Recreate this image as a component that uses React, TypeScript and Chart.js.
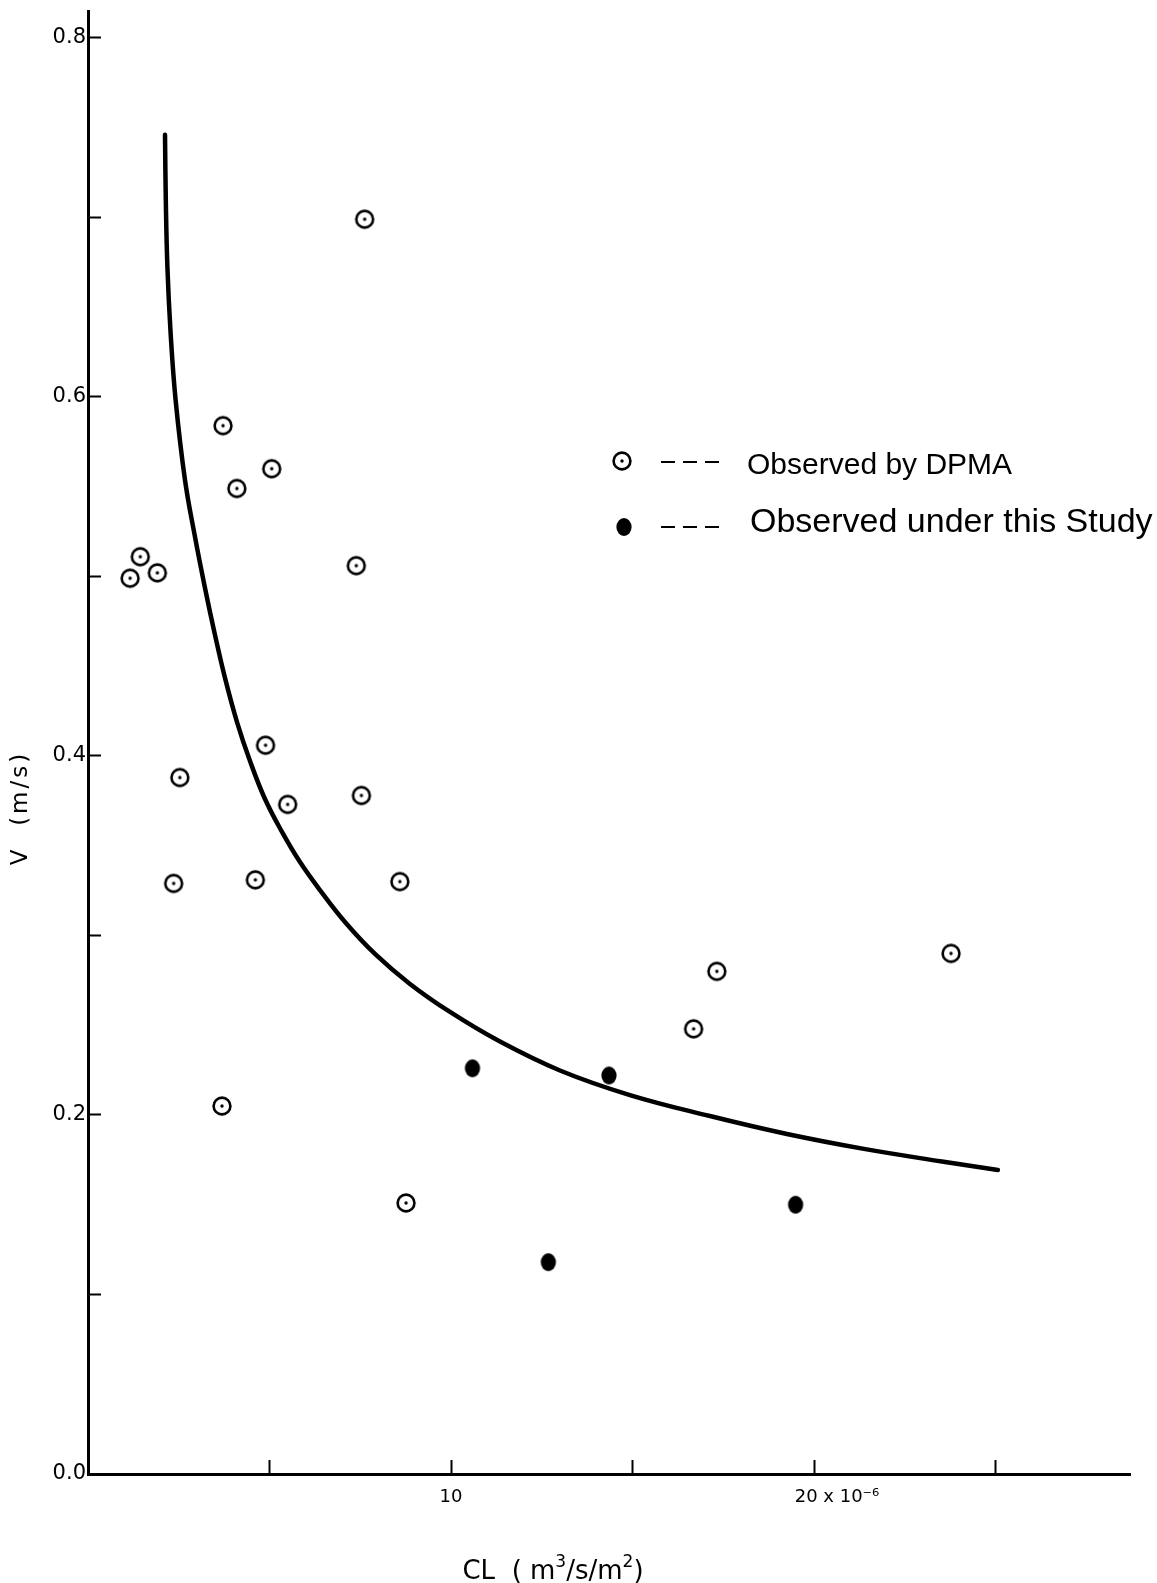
import React, { useEffect, useRef } from "react";
import { Chart, registerables } from "chart.js";

Chart.register(...registerables);

// Fitted curve V vs CL
const curveCL = [2.121, 2.143, 2.187, 2.275, 2.413, 2.671, 2.947, 3.222, 3.498, 3.773, 4.104, 4.462, 4.875, 5.343, 5.839, 6.389, 7.078, 7.904, 8.868, 9.97, 11.347, 12.999, 14.927, 17.13, 19.251, 21.371, 23.52, 25.062];
const curveV = [0.746, 0.7097, 0.6724, 0.6357, 0.5983, 0.5538, 0.522, 0.4936, 0.4674, 0.4435, 0.4189, 0.3972, 0.376, 0.3577, 0.3409, 0.3253, 0.3075, 0.2897, 0.273, 0.2574, 0.2409, 0.2248, 0.2111, 0.1994, 0.1894, 0.1811, 0.1741, 0.1694];

// Observed by DPMA
const dpmaCL = [7.62, 3.72, 4.1, 5.06, 7.39, 1.16, 1.44, 1.91, 4.89, 2.53, 5.5, 7.53, 2.36, 4.61, 8.59, 17.32, 23.77, 16.68, 3.69, 8.76];
const dpmaV = [0.699, 0.584, 0.549, 0.56, 0.506, 0.499, 0.511, 0.502, 0.406, 0.388, 0.373, 0.378, 0.329, 0.331, 0.33, 0.28, 0.29, 0.248, 0.205, 0.151];

// Observed under this Study
const studyCL = [10.59, 14.35, 12.68, 19.49];
const studyV = [0.226, 0.222, 0.118, 0.15];

// Axes
const xTickValues = [5, 10, 15, 20, 25];
const xTickLabels: Record<number, string> = { 10: "10", 20: "        20 x 10\u207B\u2076" };
const yTickValues = [0, 0.1, 0.2, 0.3, 0.4, 0.5, 0.6, 0.7, 0.8];
const xMin = 0;
const xMax = 28.7;
const yMin = 0;
const yMax = 0.815;

const legendLabels = ["Observed by DPMA", "Observed under this Study"];
const xTitleParts = ["CL  ( m", "3", "/s/m", "2", ")"];
const yTitle = "V  (m/s)";

function makeOpenMarker() {
  const c = document.createElement("canvas");
  c.width = 24;
  c.height = 24;
  const g = c.getContext("2d")!;
  g.fillStyle = "#fff";
  g.beginPath();
  g.arc(12, 12, 8.4, 0, Math.PI * 2);
  g.fill();
  g.strokeStyle = "#000";
  g.lineWidth = 2.6;
  g.stroke();
  g.fillStyle = "#000";
  g.beginPath();
  g.arc(12, 12, 1.7, 0, Math.PI * 2);
  g.fill();
  return c;
}

function makeFilledMarker() {
  const c = document.createElement("canvas");
  c.width = 18;
  c.height = 22;
  const g = c.getContext("2d")!;
  g.fillStyle = "#000";
  g.beginPath();
  g.ellipse(9, 11, 7.6, 9, 0, 0, Math.PI * 2);
  g.fill();
  return c;
}

export default function App() {
  const ref = useRef<HTMLCanvasElement>(null);

  useEffect(() => {
    const canvas = ref.current!;
    const openImg = makeOpenMarker();
    const filledImg = makeFilledMarker();

    const annotations = {
      id: "annotations",
      afterDraw(chart: any) {
        const ctx = chart.ctx as CanvasRenderingContext2D;
        ctx.save();
        ctx.fillStyle = "#000";
        ctx.strokeStyle = "#000";

        // Y title
        ctx.save();
        ctx.translate(21, 808);
        ctx.rotate(-Math.PI / 2);
        ctx.font = '23px "DejaVu Sans"';
        (ctx as any).letterSpacing = "3px";
        ctx.textAlign = "center";
        ctx.textBaseline = "middle";
        ctx.fillText(yTitle, 0, 0);
        ctx.restore();

        // X title with superscripts
        const bigFont = '26px "DejaVu Sans"';
        const supFont = '17px "DejaVu Sans"';
        let total = 0;
        xTitleParts.forEach((p, i) => {
          ctx.font = i % 2 === 1 ? supFont : bigFont;
          total += ctx.measureText(p).width;
        });
        let xx = 553 - total / 2;
        const base = 1579;
        ctx.textAlign = "left";
        ctx.textBaseline = "alphabetic";
        xTitleParts.forEach((p, i) => {
          const sup = i % 2 === 1;
          ctx.font = sup ? supFont : bigFont;
          ctx.fillText(p, xx, sup ? base - 12 : base);
          xx += ctx.measureText(p).width;
        });

        // Legend
        ctx.drawImage(openImg, 622 - 12, 461 - 12);
        ctx.drawImage(filledImg, 624 - 9, 527 - 11);
        ctx.lineWidth = 2;
        ctx.setLineDash([14, 8]);
        ctx.beginPath();
        ctx.moveTo(661, 462);
        ctx.lineTo(719, 462);
        ctx.moveTo(661, 527);
        ctx.lineTo(719, 527);
        ctx.stroke();
        ctx.setLineDash([]);
        ctx.font = '30px "Liberation Sans"';
        ctx.fillText(legendLabels[0], 747, 474);
        ctx.font = '34px "Liberation Sans"';
        ctx.fillText(legendLabels[1], 750, 532);
        ctx.restore();
      },
    };

    const chart = new Chart(canvas, {
      type: "scatter",
      data: {
        datasets: [
          {
            label: "Curve",
            data: curveCL.map((x, i) => ({ x, y: curveV[i] })),
            showLine: true,
            borderColor: "#000",
            borderWidth: 4.5,
            pointRadius: 0,
            tension: 0.4,
            borderCapStyle: "round",
            borderJoinStyle: "round",
            order: 2,
          } as any,
          {
            label: legendLabels[0],
            data: dpmaCL.map((x, i) => ({ x, y: dpmaV[i] })),
            pointStyle: openImg as any,
            pointRadius: 9,
            order: 1,
          },
          {
            label: legendLabels[1],
            data: studyCL.map((x, i) => ({ x, y: studyV[i] })),
            pointStyle: filledImg as any,
            pointRadius: 9,
            order: 0,
          },
        ],
      },
      options: {
        responsive: false,
        animation: false,
        devicePixelRatio: 1,
        layout: { padding: { top: 11, right: 27, left: 0, bottom: 0 } },
        plugins: { legend: { display: false }, tooltip: { enabled: false } },
        scales: {
          x: {
            type: "linear",
            min: xMin,
            max: xMax,
            afterFit(scale: any) {
              scale.height = 109;
              scale.paddingLeft = 0;
              scale.paddingRight = 0;
            },
            afterBuildTicks(scale: any) {
              scale.ticks = xTickValues.map((v) => ({ value: v }));
            },
            border: { display: true, color: "#000", width: 3 },
            grid: {
              drawOnChartArea: false,
              drawTicks: true,
              tickLength: -14,
              tickWidth: 2,
              tickColor: "#000",
            },
            ticks: {
              autoSkip: false,
              maxRotation: 0,
              padding: 27,
              color: "#000",
              font: { family: "DejaVu Sans", size: 18 },
              callback: (v: any) => xTickLabels[Number(v)] ?? "",
            },
          },
          y: {
            type: "linear",
            min: yMin,
            max: yMax,
            afterFit(scale: any) {
              scale.width = 88;
              scale.paddingTop = 0;
              scale.paddingBottom = 0;
            },
            afterBuildTicks(scale: any) {
              scale.ticks = yTickValues.map((v) => ({ value: v }));
            },
            border: { display: true, color: "#000", width: 3 },
            grid: {
              drawOnChartArea: false,
              drawTicks: true,
              tickLength: -13,
              tickWidth: 2,
              tickColor: "#000",
            },
            ticks: {
              autoSkip: false,
              padding: 15,
              color: "#000",
              font: { family: "DejaVu Sans", size: 21 },
              callback: (v: any) => {
                const n = Math.round(Number(v) * 10);
                return n % 2 === 0 ? (n / 10).toFixed(1) : "";
              },
            },
          },
        },
      },
      plugins: [annotations],
    });

    return () => chart.destroy();
  }, []);

  return (
    <div style={{ position: "absolute", left: 0, top: 0, width: 1157, height: 1583, background: "#fff" }}>
      <canvas ref={ref} width={1157} height={1583} style={{ display: "block", width: 1157, height: 1583 }} />
    </div>
  );
}
